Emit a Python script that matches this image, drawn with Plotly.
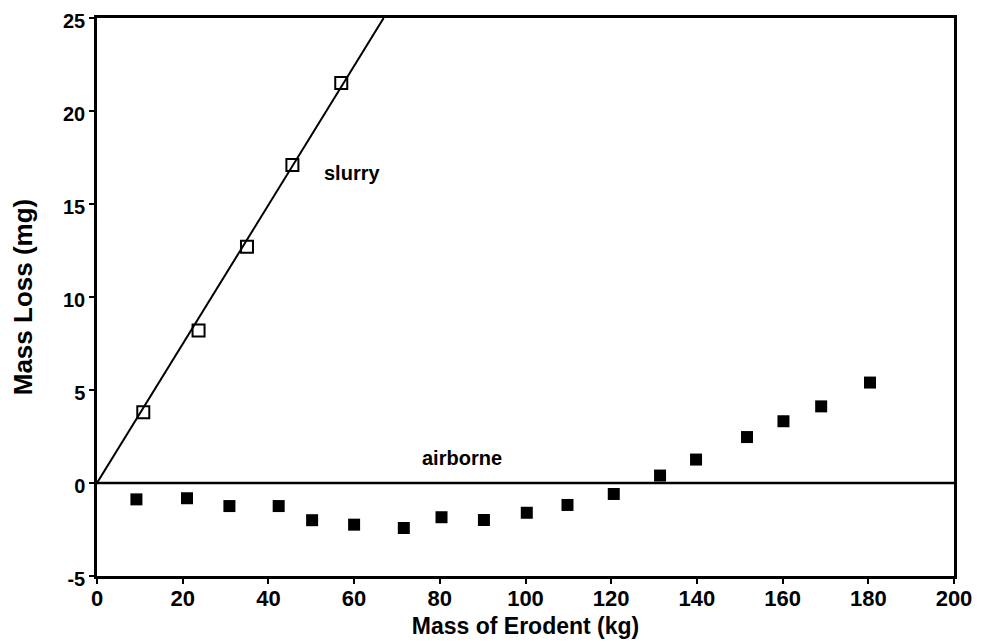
import plotly.graph_objects as go

# Slurry erosion data (open squares)
slurry_x = [10.8, 23.7, 35.0, 45.6, 57.0]
slurry_y = [3.8, 8.2, 12.7, 17.1, 21.5]

# Linear fit through origin for slurry
fit_x = [0, 66.9]
fit_y = [0, 25]

# Airborne erosion data (filled squares)
air_x = [9.2, 21.0, 30.9, 42.4, 50.2, 60.0, 71.6, 80.4, 90.3, 100.3,
         109.8, 120.6, 131.4, 139.8, 151.7, 160.2, 169.0, 180.4]
air_y = [-0.88, -0.82, -1.24, -1.24, -2.0, -2.24, -2.42, -1.84, -1.99, -1.6,
         -1.18, -0.59, 0.4, 1.26, 2.47, 3.32, 4.12, 5.4]

# Zero reference line
zero_x = [0, 200]
zero_y = [0, 0]

x_ticks = [0, 20, 40, 60, 80, 100, 120, 140, 160, 180, 200]
x_labels = [str(v) for v in x_ticks]
y_ticks = [-5, 0, 5, 10, 15, 20, 25]
y_labels = ["-5", "0", "5", "10", "15", "20", "25"]

FONT = "Liberation Sans, Arial, Helvetica, sans-serif"

fig = go.Figure()
fig.add_trace(go.Scatter(x=zero_x, y=zero_y, mode="lines",
                         line=dict(color="black", width=2.5), hoverinfo="skip"))
fig.add_trace(go.Scatter(x=fit_x, y=fit_y, mode="lines",
                         line=dict(color="black", width=2), hoverinfo="skip"))
fig.add_trace(go.Scatter(x=slurry_x, y=slurry_y, mode="markers",
                         marker=dict(symbol="square-open", size=12, color="black",
                                     line=dict(width=2, color="black")),
                         name="slurry"))
fig.add_trace(go.Scatter(x=air_x, y=air_y, mode="markers",
                         marker=dict(symbol="square", size=12, color="black"),
                         name="airborne"))

fig.add_annotation(x=52.6, y=16.65, text="<b>slurry</b>", showarrow=False, xanchor="left",
                   font=dict(family=FONT, size=20, color="black"))
fig.add_annotation(x=75.3, y=1.33, text="<b>airborne</b>", showarrow=False, xanchor="left",
                   font=dict(family=FONT, size=20, color="black"))

axis_common = dict(showgrid=False, zeroline=False, showline=True, linecolor="black",
                   linewidth=2.5, mirror=True, ticks="outside", ticklen=5,
                   tickwidth=2, tickcolor="black", automargin=False,
                   ticklabeloverflow="allow")

fig.update_xaxes(range=[0, 200], tickvals=x_ticks, ticktext=x_labels, **axis_common,
                 ticklabelstandoff=-4,
                 tickfont=dict(family=FONT, size=22, color="black", weight="bold"),
                 title=dict(text="Mass of Erodent (kg)", standoff=8,
                            font=dict(family=FONT, size=23, color="black", weight="bold")))
fig.update_yaxes(range=[-5, 25], tickvals=y_ticks, ticktext=y_labels, **axis_common,
                 ticklabelshift=3,
                 tickfont=dict(family=FONT, size=20, color="black", weight="bold"),
                 title=dict(text="Mass Loss (mg)", standoff=30,
                            font=dict(family=FONT, size=26, color="black", weight="bold")))

# Page body adds an 8px offset; size the figure to fill the remaining viewport
fig.update_layout(width=973, height=635, showlegend=False,
                  plot_bgcolor="white", paper_bgcolor="white",
                  margin=dict(l=89, r=27, t=10, b=67))

fig.write_html("out.html")
